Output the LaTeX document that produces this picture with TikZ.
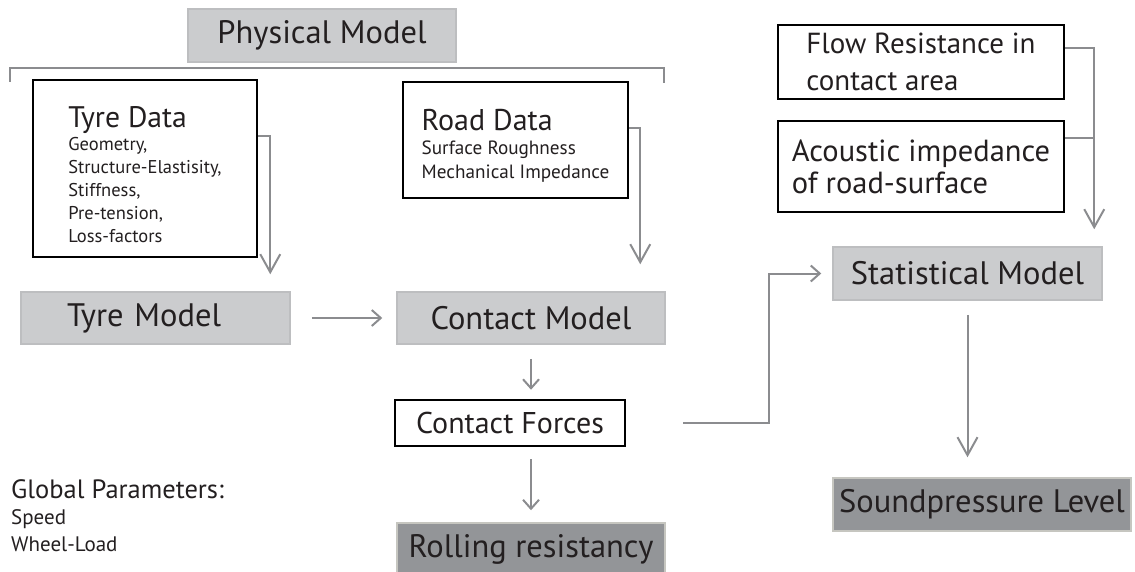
\documentclass[tikz,border=0pt]{standalone}
\usepackage{fontspec}
\setmainfont{PT Sans}
\usepackage{tikz}
\usetikzlibrary{arrows.meta}

\definecolor{boxgray}{HTML}{CBCCCE}
\definecolor{boxedge}{HTML}{BDBEC0}
\definecolor{darkgray}{HTML}{939598}
\definecolor{darkedge}{HTML}{C6C6C0}
\definecolor{linegray}{HTML}{8B8C8F}
\definecolor{ink}{HTML}{231F20}
\newcommand{\fsz}[2]{\fontsize{#1}{#2}\selectfont}

\begin{document}
\begin{tikzpicture}[x=1pt,y=-1pt,
    model/.style={draw=boxedge, line width=1.5pt, fill=boxgray, text=ink, inner sep=0pt, font=\fsz{32.5}{36}},
    result/.style={model, draw=darkedge, fill=darkgray},
    data/.style={draw=black, line width=2.5pt, fill=white, text=ink, inner sep=0pt, align=left},
    conn/.style={draw=linegray, line width=2pt},
    bigarrow/.style={conn, -{Straight Barb[length=18pt,width=20pt]}},
    smallarrow/.style={conn, -{Straight Barb[length=9pt,width=16pt]}}]
                        \useasboundingbox (0,0) rectangle (1135,572);

                        % Nodes
                        \node[model, minimum width=268pt, minimum height=53pt] (physical) at (322,35.5) {Physical Model};
                        \node[data, minimum width=224pt, minimum height=177pt, font=\fsz{18.5}{23}] (tyredata) at (145,168.5)
                            {\rule{0pt}{34pt}{\fsz{29.7}{23}Tyre Data}\\Geometry,\\Structure-Elastisity,\\Stiffness,\\Pre-tension,\\Loss-factors};
                        \node[data, minimum width=225pt, minimum height=116pt, font=\fsz{19.2}{24}] (roaddata) at (515.5,140)
                            {\rule{0pt}{33pt}{\fsz{30}{24}Road Data}\\Surface Roughness\\Mechanical Impedance};
                        \node[data, minimum width=286pt, minimum height=74pt, font=\fsz{29}{37}] (flow) at (921,62)
                            {Flow Resistance in\\contact area};
                        \node[data, minimum width=286pt, minimum height=91pt, font=\fsz{30.5}{32}] (acoustic) at (921,166.5)
                            {Acoustic impedance\\of road-surface};
                        \node[model, text width=177pt, inner xsep=46pt, align=left, minimum height=52pt] (tyremodel) at (155.5,318) {Tyre Model};
                        \node[model, minimum width=268pt, minimum height=52pt] (contactmodel) at (531,318) {Contact Model};
                        \node[data, minimum width=230pt, minimum height=46pt, font=\fsz{30}{34}] (forces) at (510,423) {Contact Forces};
                        \node[result, minimum width=268pt, minimum height=52pt] (rolling) at (531,549) {Rolling resistancy};
                        \node[model, minimum width=269pt, minimum height=53pt] (statmodel) at (967.5,273.5) {Statistical Model};
                        \node[result, minimum width=298pt, minimum height=53pt] (sound) at (982,504.5) {Soundpressure Level};
                        \node[anchor=base west, align=left, text=ink, inner sep=0pt, font=\fsz{21}{26.5}] (global) at (11,551)
                            {{\fsz{26.5}{26.5}Global Parameters:}\\Speed\\Wheel-Load};

                        % Bracket
                        \draw[conn, line width=2.5pt] (10,82) -- (10,68) -- (664,68) -- (664,83);

                        % Edges
                        \draw[bigarrow, shorten >=17pt] ([yshift=32.5pt]tyredata.east) -- ++(12,0) coordinate (tj) -- (tj |- tyremodel.north);
                        \draw[bigarrow, shorten >=27pt] ([yshift=12pt]roaddata.east) -- ++(11,0) coordinate (rj) -- (rj |- contactmodel.north);
                        \draw[bigarrow, shorten >=17pt] ([yshift=14pt]flow.east) -- ++(29,0) coordinate (fj) -- (fj |- statmodel.north);
                        \draw[conn] ([yshift=28.5pt]acoustic.east) -- ++(29,0);

                        \draw[smallarrow, shorten <=21pt, shorten >=14pt] (tyremodel.east) -- (contactmodel.west);
                        \draw[smallarrow, shorten <=14pt, shorten >=9pt] (contactmodel.south) -- (contactmodel.south |- forces.north);
                        \draw[smallarrow, shorten <=12pt, shorten >=12pt] (rolling.north |- forces.south) -- (rolling.north);
                        \draw[smallarrow, shorten <=57pt, shorten >=11pt] (forces.east) -- ++(143,0) coordinate (sj) |- (statmodel.west);
                        \draw[bigarrow, shorten <=14pt, shorten >=20pt] (statmodel.south) -- (statmodel.south |- sound.north);
                    \end{tikzpicture}
\end{document}
